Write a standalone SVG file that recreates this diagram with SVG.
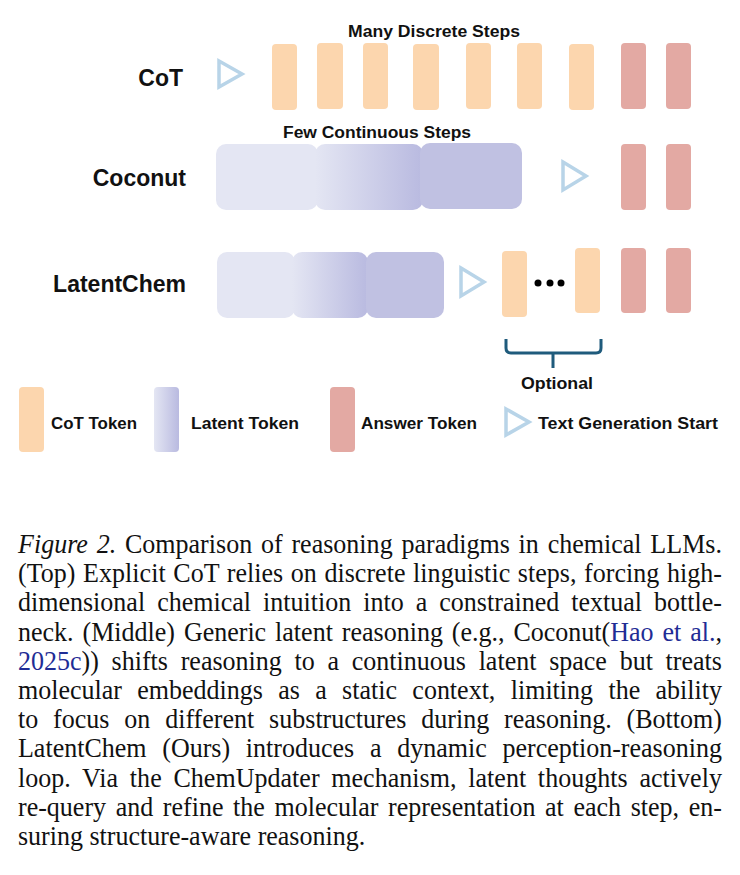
<svg xmlns="http://www.w3.org/2000/svg" width="740" height="875" viewBox="0 0 740 875">
<defs>
<linearGradient id="latGrad" x1="0" y1="0" x2="1" y2="0">
<stop offset="0" stop-color="#e4e6f3"/>
<stop offset="1" stop-color="#b9bae0"/>
</linearGradient>
<style>
.cot{fill:#fcd6ae}
.ans{fill:#e3a9a3}
.latL{fill:#e4e6f3}
.latG{fill:url(#latGrad)}
.latD{fill:#c0c1e2}
.tri{fill:none;stroke:#b8d4e8;stroke-width:3.5;stroke-linejoin:miter}
.lbl{font-family:"Liberation Sans",Arial,sans-serif;font-weight:bold;fill:#111}
.row{font-size:23px;text-anchor:end}
.small{font-size:16px}
.leg{font-size:17px}
.cap{font-family:"Liberation Serif","Times New Roman",serif;font-size:27px;fill:#111}
.link{fill:#1f2c95}
</style>
</defs>
<rect x="0" y="0" width="740" height="875" fill="#ffffff"/>

<g id="row-labels">
<text class="lbl row" x="183" y="86">CoT</text>
<text class="lbl row" x="186" y="186">Coconut</text>
<text class="lbl row" x="186" y="292">LatentChem</text>
</g>

<g id="cot-row">
<text class="lbl small" x="348" y="37" textLength="172" lengthAdjust="spacingAndGlyphs">Many Discrete Steps</text>
<polygon class="tri" points="219,61 242,74 219,87"/>
<rect class="cot" x="272" y="44" width="25" height="66" rx="4"/>
<rect class="cot" x="317" y="43" width="26" height="66" rx="4"/>
<rect class="cot" x="363" y="43" width="25" height="66" rx="4"/>
<rect class="cot" x="413" y="44" width="26" height="66" rx="4"/>
<rect class="cot" x="466" y="43" width="25" height="66" rx="4"/>
<rect class="cot" x="517" y="43" width="25" height="66" rx="4"/>
<rect class="cot" x="569" y="44" width="25" height="66" rx="4"/>
<rect class="ans" x="621" y="43" width="25" height="66" rx="4"/>
<rect class="ans" x="666" y="43" width="25" height="66" rx="4"/>
</g>

<g id="coconut-row">
<text class="lbl small" x="283" y="138" textLength="188" lengthAdjust="spacingAndGlyphs">Few Continuous Steps</text>
<rect class="latL" x="216" y="144" width="102" height="66" rx="10"/>
<rect class="latG" x="315" y="144" width="108" height="66" rx="10"/>
<rect class="latD" x="420" y="143" width="102" height="66" rx="10"/>
<polygon class="tri" points="563,162 586,176 563,190"/>
<rect class="ans" x="621" y="144" width="25" height="66" rx="4"/>
<rect class="ans" x="666" y="144" width="25" height="66" rx="4"/>
</g>

<g id="latentchem-row">
<rect class="latL" x="217" y="252" width="78" height="66" rx="10"/>
<rect class="latG" x="292" y="252" width="76" height="66" rx="10"/>
<rect class="latD" x="366" y="252" width="78" height="66" rx="10"/>
<polygon class="tri" points="461,268 484,282 461,296"/>
<rect class="cot" x="502" y="251" width="25" height="66" rx="4"/>
<circle cx="538" cy="283" r="3.5" fill="#000"/>
<circle cx="550" cy="283" r="3.5" fill="#000"/>
<circle cx="561" cy="283" r="3.5" fill="#000"/>
<rect class="cot" x="575" y="248" width="25" height="65" rx="4"/>
<rect class="ans" x="621" y="248" width="25" height="65" rx="4"/>
<rect class="ans" x="666" y="248" width="25" height="65" rx="4"/>
</g>

<g id="connectors">
<path d="M506,339 V348 Q506,353 511,353 H596 Q601,353 601,348 V339 M553,353 V368" fill="none" stroke="#1f5b7c" stroke-width="3"/>
</g>
<g id="optional-label">
<text class="lbl small" x="521" y="389" textLength="72" lengthAdjust="spacingAndGlyphs">Optional</text>
</g>

<g id="legend">
<rect class="cot" x="19" y="387" width="25" height="65" rx="4"/>
<text class="lbl leg" x="51" y="429" textLength="86" lengthAdjust="spacingAndGlyphs">CoT Token</text>
<rect class="latG" x="154" y="387" width="25" height="65" rx="4"/>
<text class="lbl leg" x="191" y="429" textLength="108" lengthAdjust="spacingAndGlyphs">Latent Token</text>
<rect class="ans" x="330" y="387" width="25" height="65" rx="4"/>
<text class="lbl leg" x="361" y="429" textLength="116" lengthAdjust="spacingAndGlyphs">Answer Token</text>
<polygon class="tri" points="506,409 529,422 506,435"/>
<text class="lbl leg" x="538" y="429" textLength="180" lengthAdjust="spacingAndGlyphs">Text Generation Start</text>
</g>

<g id="caption" transform="translate(18,0) scale(0.963,1)">
<text class="cap" x="0" y="553" word-spacing="2.32" textLength="731" lengthAdjust="spacing"><tspan font-style="italic">Figure 2.</tspan> Comparison of reasoning paradigms in chemical LLMs.</text>
<text class="cap" x="0" y="582" word-spacing="1.07" textLength="731" lengthAdjust="spacing">(Top) Explicit CoT relies on discrete linguistic steps, forcing high-</text>
<text class="cap" x="0" y="611" word-spacing="5.76" textLength="731" lengthAdjust="spacing">dimensional chemical intuition into a constrained textual bottle-</text>
<text class="cap" x="0" y="641" word-spacing="2.52" textLength="731" lengthAdjust="spacing">neck. (Middle) Generic latent reasoning (e.g., Coconut(<tspan class="link">Hao et al.</tspan>,</text>
<text class="cap" x="0" y="670" word-spacing="6.48" textLength="731" lengthAdjust="spacing"><tspan class="link">2025c</tspan>)) shifts reasoning to a continuous latent space but treats</text>
<text class="cap" x="0" y="699" word-spacing="9.16" textLength="731" lengthAdjust="spacing">molecular embeddings as a static context, limiting the ability</text>
<text class="cap" x="0" y="728" word-spacing="8.66" textLength="731" lengthAdjust="spacing">to focus on different substructures during reasoning. (Bottom)</text>
<text class="cap" x="0" y="757" word-spacing="9.58" textLength="731" lengthAdjust="spacing">LatentChem (Ours) introduces a dynamic perception-reasoning</text>
<text class="cap" x="0" y="787" word-spacing="5.33" textLength="731" lengthAdjust="spacing">loop. Via the ChemUpdater mechanism, latent thoughts actively</text>
<text class="cap" x="0" y="816" word-spacing="3.24" textLength="731" lengthAdjust="spacing">re-query and refine the molecular representation at each step, en-</text>
<text class="cap" x="0" y="845">suring structure-aware reasoning.</text>
</g>
</svg>
